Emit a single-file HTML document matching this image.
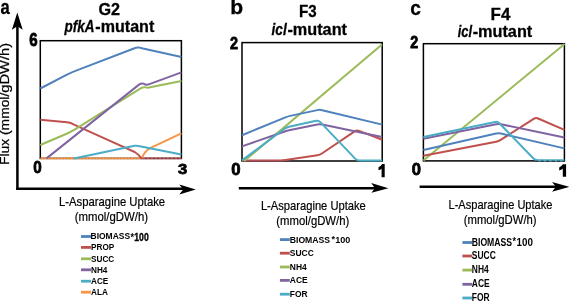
<!DOCTYPE html>
<html><head><meta charset="utf-8"><style>
html,body{margin:0;padding:0;background:#fff;width:569px;height:301px;overflow:hidden}
svg{display:block;filter:blur(0.3px)}
text{font-family:"Liberation Sans",sans-serif;fill:#000}
.r{font-weight:normal}
.b{font-weight:bold}
.bi{font-weight:bold;font-style:italic}
.ln{fill:none;stroke-width:2.0;stroke-linejoin:round;stroke-linecap:butt}
.bx{fill:none;stroke:#000;stroke-width:1.5}
.ax{stroke:#000;stroke-width:2.5;fill:none}
.lg{stroke-width:2.8}
</style></head><body>
<svg width="569" height="301" viewBox="0 0 569 301">
<!-- ===== Panel a ===== -->
<line class="ax" x1="17.4" y1="25" x2="17.4" y2="189.9"/>
<line class="ax" x1="16.2" y1="188.7" x2="183" y2="188.7"/>
<path d="M17.3 12.5 L22.7 29.8 L17.3 26.3 L11.9 29.8 Z" fill="#000"/>
<path d="M195.8 189.5 L179.3 184.6 L183.2 189.5 L179.3 194.5 Z" fill="#000"/>
<rect class="bx" x="40.3" y="40.7" width="141.1" height="117.7"/>
<g class="ln">
<polyline stroke="#F79646" stroke-width="1.9" points="40.3,158.4 141,158.4"/>
<line x1="40.3" y1="158.4" x2="141" y2="158.4" stroke="#b06020" stroke-width="1" stroke-dasharray="1 2.2" stroke-opacity="0.6"/>
<polyline stroke="#C0504D" stroke-width="1.9" points="141,158.4 181.4,158.4"/>
<line x1="141" y1="158.4" x2="181.4" y2="158.4" stroke="#5a2a50" stroke-width="1.2" stroke-dasharray="2 2" stroke-opacity="0.6"/>
<path stroke="#F79646" d="M141.5,158.4 C144,153 146,150 150.6,147.9 L181.4,133.4"/>
<path stroke="#C0504D" d="M40.3,119.8 L67,122.3 Q71,122.8 74,124.6 L110,140.8 L134.7,152 Q139,154.5 141.5,158.4"/>
<path stroke="#4BACC6" d="M74,158.4 L134.5,145.8 Q136.4,145.4 138.5,146 L181.4,154.4"/>
<path stroke="#9BBB59" d="M40.3,145 L66,134 Q71,131.8 75,129.4 L141,88.2 Q143.5,86.6 146,87.4 Q147.5,87.9 149,87.5 L181.4,81"/>
<path stroke="#8064A2" d="M46.5,158.4 L139,84.6 Q141.5,82.9 143.5,83.6 Q145.5,85.1 148,84.6 L181.4,72.4"/>
<path stroke="#4F81BD" d="M40.3,88.5 L66,75.1 Q73,71.6 80,69.1 L134.5,48.2 Q136.8,47.1 139.5,47.6 L143,48.5 L181.4,57.1"/>
</g>

<!-- ===== Panel b ===== -->
<line class="ax" x1="238.8" y1="188.2" x2="375" y2="188.2"/>
<path d="M388.4 188.2 L371.2 182.9 L375 188.2 L371.4 192.8 Z" fill="#000"/>
<rect class="bx" x="242" y="42.6" width="140.2" height="118.4"/>
<g class="ln">
<path stroke="#C0504D" d="M242.00,160.40 L280.50,160.40 Q283.00,160.40 285.47,160.03 L317.33,155.27 Q319.80,154.90 321.87,153.50 L354.63,131.40 Q356.70,130.00 359.03,130.90 L382.20,139.80"/>
<line x1="242" y1="160.4" x2="283" y2="160.4" stroke="#7a4a90" stroke-width="1" stroke-dasharray="1.5 2.5" stroke-opacity="0.5"/>
<polyline stroke="#9BBB59" points="244.2,161 382,44.6"/>
<path stroke="#8064A2" d="M242.00,146.40 L285.44,131.22 Q287.80,130.40 290.25,129.91 L317.35,124.49 Q319.80,124.00 322.25,124.51 L382.20,137.00"/>
<path stroke="#4BACC6" d="M242.00,160.40 L284.59,128.69 Q286.60,127.20 289.04,126.67 L316.16,120.83 Q318.60,120.30 320.33,122.11 L355.17,158.59 Q356.90,160.40 359.40,160.40 L382.20,160.40"/>
<path stroke="#4F81BD" d="M242.00,135.20 L285.49,117.35 Q287.80,116.40 290.25,115.88 L317.35,110.12 Q319.80,109.60 322.23,110.18 L382.20,124.60"/>
</g>

<!-- ===== Panel c ===== -->
<line class="ax" x1="419.6" y1="186.8" x2="556" y2="186.8"/>
<path d="M569.5 186.8 L552 181.9 L556 186.8 L552 191.7 Z" fill="#000"/>
<rect class="bx" x="423.4" y="43.7" width="141" height="117.2"/>
<g class="ln">
<polyline stroke="#9BBB59" points="423.4,160.6 564.6,44"/>
<path stroke="#C0504D" d="M423.40,155.80 L496.15,141.68 Q498.60,141.20 500.71,139.86 L533.69,118.84 Q535.80,117.50 538.09,118.49 L564.40,129.90"/>
<path stroke="#4F81BD" d="M423.40,150.00 L496.16,133.55 Q498.60,133.00 501.03,133.57 L564.40,148.40"/>
<path stroke="#8064A2" d="M423.40,138.80 L496.15,124.29 Q498.60,123.80 501.05,124.31 L564.40,137.40"/>
<path stroke="#4BACC6" d="M423.40,137.10 L495.15,121.92 Q497.60,121.40 499.34,123.20 L533.46,158.50 Q535.20,160.30 537.70,160.30 L564.40,160.30"/>
<line x1="535.2" y1="161.2" x2="564.4" y2="161.2" stroke="#000" stroke-width="1" stroke-dasharray="3 2.5" stroke-opacity="0.7"/>
</g>

<!-- legends -->
<g class="lg">
<line x1="81" x2="91" y1="236.5" y2="236.5" stroke="#4F81BD"/>
<line x1="81" x2="91" y1="247.4" y2="247.4" stroke="#C0504D"/>
<line x1="81" x2="91" y1="258.8" y2="258.8" stroke="#9BBB59"/>
<line x1="81" x2="91" y1="269.8" y2="269.8" stroke="#8064A2"/>
<line x1="81" x2="91" y1="281.2" y2="281.2" stroke="#4BACC6"/>
<line x1="81" x2="91" y1="292.2" y2="292.2" stroke="#F79646"/>
<line x1="279.9" x2="289.8" y1="239.6" y2="239.6" stroke="#4F81BD"/>
<line x1="279.9" x2="289.8" y1="253.2" y2="253.2" stroke="#C0504D"/>
<line x1="279.9" x2="289.8" y1="267" y2="267" stroke="#9BBB59"/>
<line x1="279.9" x2="289.8" y1="280.4" y2="280.4" stroke="#8064A2"/>
<line x1="279.9" x2="289.8" y1="294.2" y2="294.2" stroke="#4BACC6"/>
<line x1="462.4" x2="472.2" y1="242.5" y2="242.5" stroke="#4F81BD"/>
<line x1="462.4" x2="472.2" y1="256" y2="256" stroke="#C0504D"/>
<line x1="462.4" x2="472.2" y1="270.1" y2="270.1" stroke="#9BBB59"/>
<line x1="462.4" x2="472.2" y1="284.3" y2="284.3" stroke="#8064A2"/>
<line x1="462.4" x2="472.2" y1="298" y2="298" stroke="#4BACC6"/>
</g>
<path d="M384.7,164.1 L384.7,177.3 L381.6,177.3 L381.6,168.7 Q380.2,169.7 378.5,170.3 L378.5,167.3 Q380.8,166.3 382.1,164.1 Z" fill="#000"/>
<path d="M566.1,164.3 L566.1,176.7 L562.8,176.7 L562.8,168.8 Q561.3,169.8 559.2,170.4 L559.2,167.4 Q561.5,166.4 562.9,164.3 Z" fill="#000"/>

<text class="b" x="0.50" y="14.00" font-size="21" textLength="9.25" lengthAdjust="spacingAndGlyphs" stroke="#000" stroke-width="0.3">a</text>
<text class="b" x="230.24" y="14.40" font-size="21" textLength="12.88" lengthAdjust="spacingAndGlyphs" stroke="#000" stroke-width="0.3">b</text>
<text class="b" x="410.19" y="14.60" font-size="21" textLength="10.68" lengthAdjust="spacingAndGlyphs" stroke="#000" stroke-width="0.3">c</text>
<text class="b" x="98.50" y="14.80" font-size="16.5" textLength="21.56" lengthAdjust="spacingAndGlyphs" stroke="#000" stroke-width="0.3">G2</text>
<text class="bi" x="64.43" y="32.00" font-size="16.5" textLength="30.02" lengthAdjust="spacingAndGlyphs" stroke="#000" stroke-width="0.3">pfkA</text>
<text class="b" x="95.36" y="32.00" font-size="16.5" textLength="58.88" lengthAdjust="spacingAndGlyphs" stroke="#000" stroke-width="0.3">-mutant</text>
<text class="b" x="298.98" y="17.40" font-size="16.5" textLength="17.62" lengthAdjust="spacingAndGlyphs" stroke="#000" stroke-width="0.3">F3</text>
<text class="bi" x="271.48" y="34.70" font-size="16.5" textLength="15.24" lengthAdjust="spacingAndGlyphs" stroke="#000" stroke-width="0.3">icl</text>
<text class="b" x="287.41" y="34.70" font-size="16.5" textLength="59.57" lengthAdjust="spacingAndGlyphs" stroke="#000" stroke-width="0.3">-mutant</text>
<text class="b" x="490.55" y="20.30" font-size="16.5" textLength="19.75" lengthAdjust="spacingAndGlyphs" stroke="#000" stroke-width="0.3">F4</text>
<text class="bi" x="457.69" y="37.40" font-size="16.5" textLength="14.28" lengthAdjust="spacingAndGlyphs" stroke="#000" stroke-width="0.3">icl</text>
<text class="b" x="472.65" y="37.40" font-size="16.5" textLength="59.60" lengthAdjust="spacingAndGlyphs" stroke="#000" stroke-width="0.3">-mutant</text>
<text class="b" x="29.30" y="46.00" font-size="18" textLength="8.41" lengthAdjust="spacingAndGlyphs" stroke="#000" stroke-width="0.8">6</text>
<text class="b" x="33.30" y="173.30" font-size="16.6" textLength="8.46" lengthAdjust="spacingAndGlyphs" stroke="#000" stroke-width="0.8">0</text>
<text class="b" x="178.14" y="174.40" font-size="15.5" textLength="9.24" lengthAdjust="spacingAndGlyphs" stroke="#000" stroke-width="0.8">3</text>
<text class="b" x="230.04" y="48.80" font-size="17.2" textLength="8.02" lengthAdjust="spacingAndGlyphs" stroke="#000" stroke-width="0.8">2</text>
<text class="b" x="231.35" y="175.10" font-size="17.2" textLength="9.31" lengthAdjust="spacingAndGlyphs" stroke="#000" stroke-width="0.8">0</text>
<text class="b" x="410.30" y="48.30" font-size="16.2" textLength="7.96" lengthAdjust="spacingAndGlyphs" stroke="#000" stroke-width="0.8">2</text>
<text class="b" x="411.77" y="174.60" font-size="17.0" textLength="9.25" lengthAdjust="spacingAndGlyphs" stroke="#000" stroke-width="0.8">0</text>
<text class="r" x="59.05" y="205.80" font-size="12.2" textLength="106.07" lengthAdjust="spacingAndGlyphs" stroke="#000" stroke-width="0.2">L-Asparagine Uptake</text>
<text class="r" x="74.79" y="220.80" font-size="12.2" textLength="73.28" lengthAdjust="spacingAndGlyphs" stroke="#000" stroke-width="0.2">(mmol/gDW/h)</text>
<text class="r" x="260.90" y="210.00" font-size="12.2" textLength="104.92" lengthAdjust="spacingAndGlyphs" stroke="#000" stroke-width="0.2">L-Asparagine Uptake</text>
<text class="r" x="276.32" y="224.90" font-size="12.2" textLength="72.91" lengthAdjust="spacingAndGlyphs" stroke="#000" stroke-width="0.2">(mmol/gDW/h)</text>
<text class="r" x="448.48" y="208.60" font-size="12.2" textLength="103.98" lengthAdjust="spacingAndGlyphs" stroke="#000" stroke-width="0.2">L-Asparagine Uptake</text>
<text class="r" x="463.74" y="223.90" font-size="12.2" textLength="72.85" lengthAdjust="spacingAndGlyphs" stroke="#000" stroke-width="0.2">(mmol/gDW/h)</text>
<text class="r" x="9.30" y="165.00" font-size="12.6" textLength="72.30" lengthAdjust="spacingAndGlyphs" transform="rotate(-90 9.30 165.00)" stroke="#000" stroke-width="0.25">Flux (mmol/</text>
<text class="r" x="9.30" y="92.70" font-size="12.6" textLength="49.80" lengthAdjust="spacingAndGlyphs" transform="rotate(-90 9.30 92.70)" stroke="#000" stroke-width="0.25">gDW/h)</text>
<text class="b" x="90.59" y="239.10" font-size="8.2" textLength="39.50" lengthAdjust="spacingAndGlyphs">BIOMASS</text>
<text class="b" x="91.00" y="250.30" font-size="8.2" textLength="23.24" lengthAdjust="spacingAndGlyphs">PROP</text>
<text class="b" x="91.00" y="261.60" font-size="8.2" textLength="23.24" lengthAdjust="spacingAndGlyphs">SUCC</text>
<text class="b" x="91.00" y="272.60" font-size="8.2" textLength="16.40" lengthAdjust="spacingAndGlyphs">NH4</text>
<text class="b" x="91.00" y="284.00" font-size="8.2" textLength="17.31" lengthAdjust="spacingAndGlyphs">ACE</text>
<text class="b" x="91.00" y="295.00" font-size="8.2" textLength="16.85" lengthAdjust="spacingAndGlyphs">ALA</text>
<text class="b" x="130.50" y="240.60" font-size="10" textLength="3.50" lengthAdjust="spacingAndGlyphs">*</text>
<text class="b" x="134.34" y="240.50" font-size="10.5" textLength="14.39" lengthAdjust="spacingAndGlyphs" stroke="#000" stroke-width="0.35">100</text>
<text class="b" x="289.74" y="242.50" font-size="9.9" textLength="40.40" lengthAdjust="spacingAndGlyphs">BIOMASS</text>
<text class="b" x="289.80" y="255.90" font-size="9.9" textLength="23.94" lengthAdjust="spacingAndGlyphs">SUCC</text>
<text class="b" x="289.80" y="269.60" font-size="9.9" textLength="16.90" lengthAdjust="spacingAndGlyphs">NH4</text>
<text class="b" x="289.80" y="283.00" font-size="9.9" textLength="17.84" lengthAdjust="spacingAndGlyphs">ACE</text>
<text class="b" x="289.80" y="296.80" font-size="9.9" textLength="17.84" lengthAdjust="spacingAndGlyphs">FOR</text>
<text class="b" x="331.60" y="242.20" font-size="9.5" textLength="3.50" lengthAdjust="spacingAndGlyphs">*</text>
<text class="b" x="335.18" y="242.60" font-size="9.9" textLength="15.15" lengthAdjust="spacingAndGlyphs">100</text>
<text class="b" x="471.74" y="245.60" font-size="10.8" textLength="40.40" lengthAdjust="spacingAndGlyphs">BIOMASS</text>
<text class="b" x="471.80" y="259.10" font-size="10.8" textLength="23.94" lengthAdjust="spacingAndGlyphs">SUCC</text>
<text class="b" x="471.80" y="273.00" font-size="10.8" textLength="16.90" lengthAdjust="spacingAndGlyphs">NH4</text>
<text class="b" x="471.80" y="287.10" font-size="10.8" textLength="17.84" lengthAdjust="spacingAndGlyphs">ACE</text>
<text class="b" x="471.80" y="300.80" font-size="10.8" textLength="17.84" lengthAdjust="spacingAndGlyphs">FOR</text>
<text class="b" x="512.60" y="245.30" font-size="10" textLength="3.50" lengthAdjust="spacingAndGlyphs">*</text>
<text class="b" x="516.60" y="245.90" font-size="10.8" textLength="16.37" lengthAdjust="spacingAndGlyphs">100</text>
</svg>
</body></html>
